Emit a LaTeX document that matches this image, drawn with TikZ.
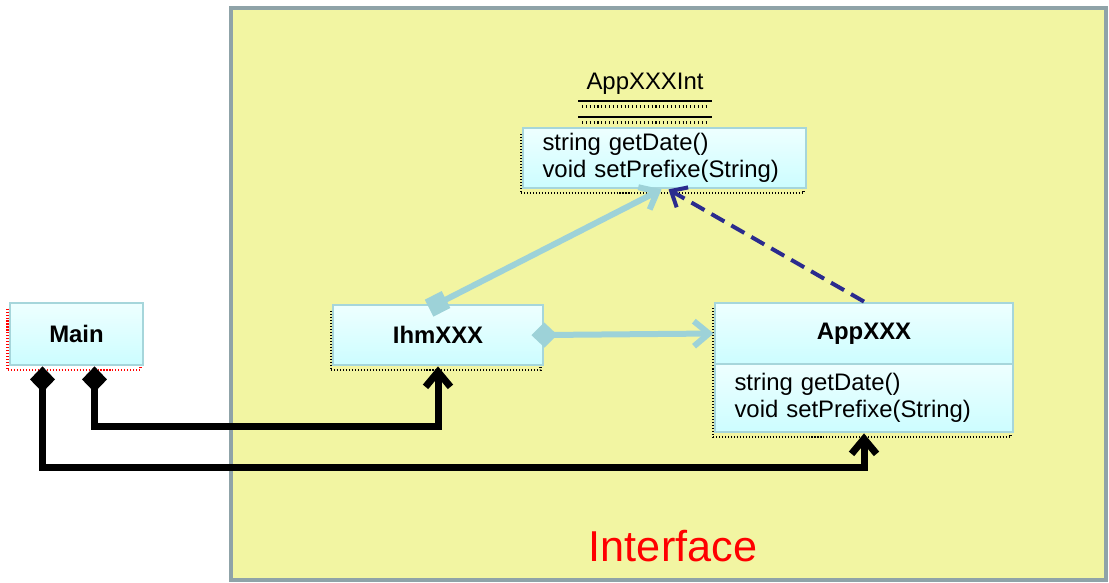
\documentclass[tikz,border=0pt]{standalone}
\usepackage{fontspec}
\setmainfont{Liberation Sans}
\usepackage{tikz}
\usetikzlibrary{arrows.meta}
\usetikzlibrary{shadows}
\definecolor{pkgfill}{HTML}{F2F5A2}
\definecolor{pkgline}{HTML}{8FA3A8}
\definecolor{boxtop}{HTML}{EEFFFF}
\definecolor{boxbot}{HTML}{CCFDFF}
\definecolor{boxline}{HTML}{A6D6DB}
\definecolor{linkblue}{HTML}{9DD2D8}
\definecolor{dashblue}{HTML}{2B2B8E}
\tikzset{ uml_box/.style = {rectangle, draw=boxline, line width=1.6pt, top color=boxtop, bottom color=boxbot, inner sep=0pt, font=\fontsize{13.6}{16}\selectfont\bfseries} }
\tikzset{ uml_ops/.style = {uml_box, font=\fontsize{13.6}{15.4}\selectfont, align=left, inner xsep=0.39cm} }
\tikzset{ dot_shadow/.style = {general shadow={shadow xshift=-1.2pt, shadow yshift=-2.8pt, draw=#1, line width=1.6pt, dash pattern=on 0.6pt off 1.1pt}} }
\tikzset{ open_tip/.style = {Straight Barb[length=0.3cm,width=0.52cm]} }
\tikzset{ assoc/.style = {draw=linkblue, line width=0.12cm} }
\tikzset{ realize/.style = {draw=dashblue, line width=0.08cm, dash pattern=on 0.3cm off 0.16cm, -{Straight Barb[length=0.26cm,width=0.46cm]}} }
\tikzset{ aggr/.style = {draw=black, line width=0.14cm, {Diamond[length=0.52cm,width=0.5cm]}-{Straight Barb[length=0.3cm,width=0.5cm]}} }

\begin{document}
\begin{tikzpicture}[x=0.02cm, y=-0.02cm]
        \useasboundingbox (0,0) rectangle (1109,582);
        \draw[draw=pkgline, fill=pkgfill, line width=2.8pt] (231,8) rectangle (1106,580);
        \node[text=red, font=\fontsize{24.6}{28}\selectfont] (pkg) at (673,546) {Interface};
        \node[uml_box, dot_shadow=red, minimum width=2.66cm, minimum height=1.24cm] (main) at (76.5,334) {Main};
        \node[uml_box, dot_shadow=black, minimum width=4.2cm, minimum height=1.2cm] (ihm) at (438,335) {IhmXXX};
        \node[uml_box, dot_shadow=black, minimum width=5.96cm, minimum height=1.22cm] (app) at (864,333.5) {AppXXX};
        \node[uml_ops, dot_shadow=black, text width=5.18cm, minimum height=1.36cm] (appops) at (864,398) {string getDate()\\void setPrefixe(String)};
        \node[font=\fontsize{13.6}{16}\selectfont] (int) at (645,84) {AppXXXInt};
        \draw[line width=1.7pt] (578,101) -- (712,101);
        \draw[line width=1.7pt] (578,117) -- (712,117);
        \draw[line width=1.3pt, dash pattern=on 0.6pt off 1.6pt] (582,106.5) -- (706,106.5);
        \draw[line width=1.3pt, dash pattern=on 0.6pt off 1.6pt] (582,122.5) -- (706,122.5);
        \node[uml_ops, dot_shadow=black, text width=4.88cm, minimum height=1.2cm] (intops) at (664.5,158) {string getDate()\\void setPrefixe(String)};
        \draw[assoc, {Square[length=0.38cm,width=0.38cm]}-{Straight Barb[length=0.3cm,width=0.5cm]}, shorten <=-0.2cm] (ihm.north) to ([xshift=-0.06cm]intops.south);
        \draw[assoc, {Diamond[length=0.52cm,width=0.5cm]}-{Straight Barb[length=0.3cm,width=0.5cm]}, shorten <=-0.26cm] (ihm.east) to (app.west);
        \draw[realize] (app.north) to ([xshift=0.08cm]intops.south);
        \draw[aggr] ([xshift=0.36cm]main.south) -- ++(0,60) -| (ihm.south);
        \draw[aggr] ([xshift=-0.68cm]main.south) -- ++(0,101) -| (appops.south);
\end{tikzpicture}
\end{document}
